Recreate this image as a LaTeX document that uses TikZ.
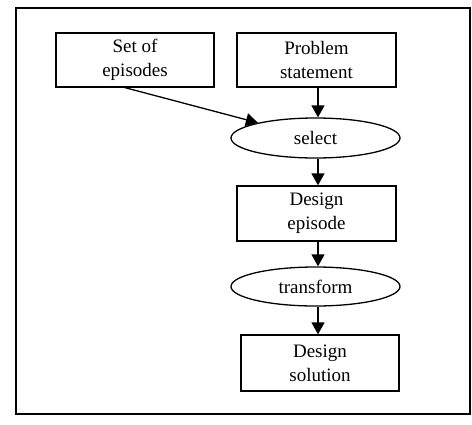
\documentclass[tikz,border=0pt]{standalone}
\usepackage{fontspec}
\setmainfont{Liberation Serif}
\usetikzlibrary{arrows.meta,shapes.geometric,calc}
\begin{document}
\begin{tikzpicture}[x=1pt,y=-1pt,
  every node/.style={font=\fontsize{19}{24}\selectfont, align=center, inner sep=0pt},
  box/.style={draw, line width=1.3pt, rectangle},
  oval/.style={draw, line width=1.3pt, ellipse},
  arr/.style={line width=1.3pt, -{Triangle[length=12pt,width=13pt]}}]
\useasboundingbox (0,0) rectangle (472,424);
\draw[line width=1.8pt] (16,8) rectangle (470,414);
\node[box, minimum width=158, minimum height=54] (set) at (135,60) {Set of\\episodes};
\node[box, minimum width=159, minimum height=54] (prob) at (316.5,60) {Problem\\statement};
\node[oval, minimum width=169, minimum height=40] (sel) at (315.5,138) {select};
\node[box, minimum width=159, minimum height=55] (dep) at (316.5,213.5) {Design\\episode};
\node[oval, minimum width=169, minimum height=39] (tr) at (315.5,286.5) {transform};
\node[box, minimum width=158, minimum height=56] (sol) at (320,363) {Design\\solution};
\coordinate (ax) at (318,0);
\draw[arr] ($(set.south)+(-10,0)$) -- (sel);
\draw[arr] (prob.south -| ax) -- (sel.north -| ax);
\draw[arr] (sel.south -| ax) -- (dep.north -| ax);
\draw[arr] (dep.south -| ax) -- (tr.north -| ax);
\draw[arr] (tr.south -| ax) -- (sol.north -| ax);
\end{tikzpicture}
\end{document}
